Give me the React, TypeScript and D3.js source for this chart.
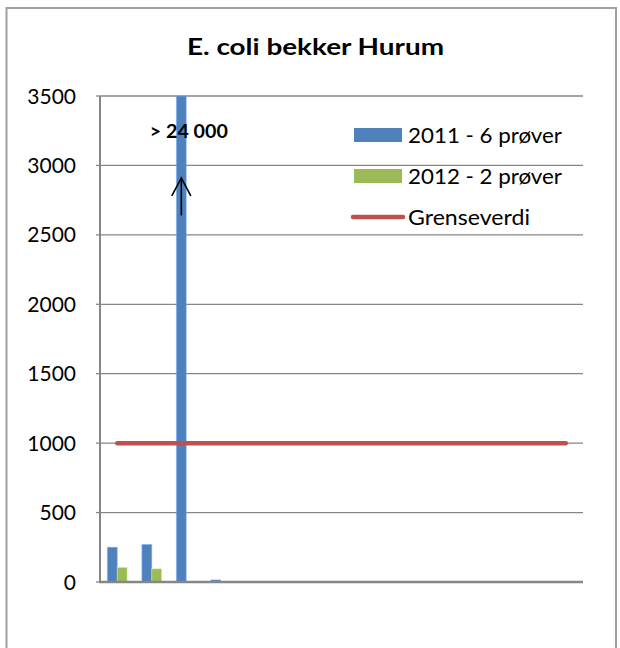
import React from "react";
import * as d3 from "d3";

const categories = ["1","2","3","4","5","6","7","8","9","10","11","12","13","14"];
const series2011 = [250, 270, 24000, 15, null, null, null, null, null, null, null, null, null, null];
const series2012 = [105, 95, null, null, null, null, null, null, null, null, null, null, null, null];
const grenseverdi = [1000, 1000, 1000, 1000, 1000, 1000, 1000, 1000, 1000, 1000, 1000, 1000, 1000, 1000];
const yTicks = [0, 500, 1000, 1500, 2000, 2500, 3000, 3500];
const seriesNames = ["2011 - 6 prøver", "2012 - 2 prøver", "Grenseverdi"];
const title = "E. coli bekker Hurum";
const annotation = "> 24 000";

const W = 620, H = 648;
const plot = { left: 100, right: 583, top: 96, bottom: 582 };
const BLUE = "#4F81BD", GREEN = "#9BBB59", RED = "#C0504D", GRID = "#868686";
const FONT = "Lato, 'Open Sans', sans-serif";
const legendWidths = [154, 154, 122];

export default function App() {
  const y = d3.scaleLinear().domain([0, 3500]).range([plot.bottom, plot.top]).clamp(true);
  const x = d3.scaleBand().domain(categories).range([plot.left, plot.right]).padding(0);
  const bw = x.bandwidth() / 3.5;
  const inner = d3.scaleBand().domain(["a", "b"]).range([0, 2 * bw]).padding(0);
  const groupOffset = (x.bandwidth() - 2 * bw) / 2;

  const bars: { key: string; x: number; y: number; h: number; c: string }[] = [];
  [series2011, series2012].forEach((s, si) => {
    s.forEach((v, i) => {
      if (v == null) return;
      const bx = (x(categories[i]) as number) + groupOffset + (inner(si === 0 ? "a" : "b") as number);
      bars.push({ key: `${si}-${i}`, x: bx, y: y(v), h: y(0) - y(v), c: si === 0 ? BLUE : GREEN });
    });
  });

  const line = d3.line<number>()
    .x((_, i) => (x(categories[i]) as number) + x.bandwidth() / 2)
    .y((d) => y(d));

  const bigIdx = 2;
  const ax = (x(categories[bigIdx]) as number) + groupOffset + (inner("a") as number) + bw / 2;

  const legendX = 354, legendTextX = 408;
  const legendY = [135, 176, 217];

  return (
    <svg width={W} height={H} style={{ position: "absolute", left: 0, top: 0, background: "#fff" }} fontFamily={FONT}>
      <rect x={0} y={0} width={W} height={H} fill="#fff" />
      <rect x={6.5} y={8} width={609.5} height={720} fill="none" stroke="#A0A0A0" strokeWidth={2} />
      <text x={187} y={54.5} fontSize={23} fontWeight="bold" fill="#000" textLength={257} lengthAdjust="spacingAndGlyphs">{title}</text>

      {yTicks.map((t) => (
        <g key={t}>
          {t > 0 && <line x1={plot.left} x2={plot.right} y1={y(t)} y2={y(t)} stroke={GRID} strokeWidth={1.3} />}
          <line x1={plot.left - 4} x2={plot.left} y1={y(t)} y2={y(t)} stroke={GRID} strokeWidth={1.3} />
          <text x={76} y={y(t)} dy="0.36em" textAnchor="end" fontSize={21} fill="#000">{t}</text>
        </g>
      ))}

      {bars.map((b) => (
        <rect key={b.key} x={b.x} y={b.y} width={bw} height={b.h} fill={b.c}
          stroke={d3.color(b.c)!.brighter(0.9).toString()} strokeOpacity={0.5} strokeWidth={1} />
      ))}

      <line x1={plot.left} x2={plot.left} y1={plot.top} y2={plot.bottom} stroke={GRID} strokeWidth={2} />
      <line x1={plot.left - 1} x2={plot.right} y1={plot.bottom} y2={plot.bottom} stroke={GRID} strokeWidth={2.5} />

      <path d={line(grenseverdi) || ""} fill="none" stroke={RED} strokeWidth={4.5} strokeLinecap="round" />

      <text x={ax - 31.5} y={y(3200)} fontSize={19} fontWeight="bold" fill="#000" textLength={78} lengthAdjust="spacingAndGlyphs">{annotation}</text>
      <line x1={ax} x2={ax} y1={y(2640)} y2={y(2910)} stroke="#000" strokeWidth={1.6} />
      <polyline points={`${ax - 9.5},${y(2780)} ${ax},${y(2910)} ${ax + 9.5},${y(2780)}`} fill="none" stroke="#000" strokeWidth={1.6} />

      <rect x={legendX} y={legendY[0] - 7} width={48} height={14} fill={BLUE} />
      <rect x={legendX} y={legendY[1] - 7} width={48} height={14} fill={GREEN} />
      <line x1={legendX - 1} x2={legendX + 49} y1={legendY[2]} y2={legendY[2]} stroke={RED} strokeWidth={4.5} strokeLinecap="round" />
      {seriesNames.map((n, i) => (
        <text key={n} x={legendTextX} y={legendY[i]} dy="0.36em" fontSize={21} fill="#000"
          textLength={legendWidths[i]} lengthAdjust="spacingAndGlyphs">{n}</text>
      ))}
    </svg>
  );
}
